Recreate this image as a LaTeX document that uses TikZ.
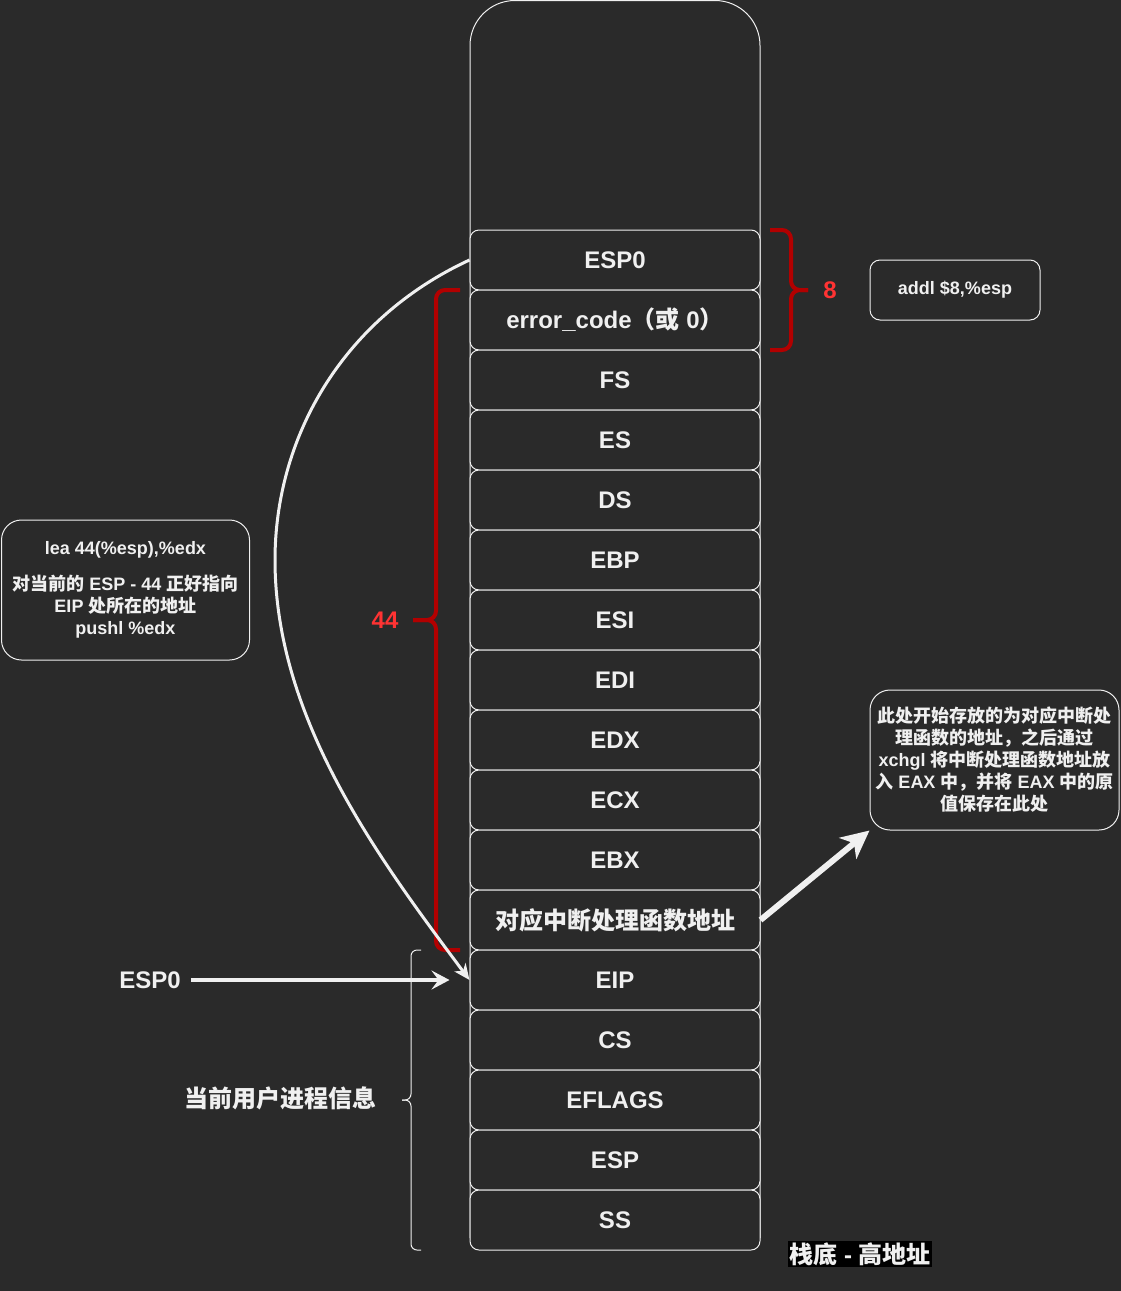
\documentclass[tikz,border=0pt]{standalone}
\usepackage{fontspec}
\setmainfont{Liberation Sans}
\newfontfamily\zhfont{Noto Sans CJK SC}
\newcommand\zh[1]{{\zhfont #1}}
\usetikzlibrary{arrows.meta}

\definecolor{bgc}{HTML}{2A2A2A}
\definecolor{linec}{HTML}{F0F0F0}
\definecolor{redc}{HTML}{B20000}
\definecolor{redtext}{HTML}{FF3333}

\tikzset{
  slot/.style={draw=linec, line width=1pt, fill=bgc, rounded corners=9pt,
    minimum width=290pt, minimum height=60pt, inner sep=0pt, text=linec,
    font=\fontsize{24}{28}\selectfont\bfseries},
  note/.style={draw=linec, line width=1pt, rounded corners=20pt, text=linec,
    inner sep=0pt, font=\fontsize{18}{22}\selectfont\bfseries, align=center},
  lbl/.style={text=linec, inner sep=0pt, font=\fontsize{24}{28}\selectfont\bfseries},
  redlbl/.style={text=redtext, inner sep=0pt, font=\fontsize{24}{28}\selectfont\bfseries},
  redbrace/.style={draw=redc, line width=4pt, rounded corners=9pt},
  thinbrace/.style={draw=linec, line width=1pt, rounded corners=6pt},
}

\begin{document}
\begin{tikzpicture}[x=1pt,y=-1pt]
\useasboundingbox (0,0) rectangle (1121,1291);
\fill[bgc] (0,0) rectangle (1121,1291);

% outer frame of the stack
\draw[linec, line width=1pt, rounded corners=45pt] (470,1238) -- (470,0.5) -- (760,0.5) -- (760,1238);

% stack slots
\node[slot] (esp0) at (615,260) {ESP0};
\node[slot] (err) at (615,320) {error\_code\zh{（或} 0\zh{）}};
\node[slot] (fs) at (615,380) {FS};
\node[slot] (es) at (615,440) {ES};
\node[slot] (ds) at (615,500) {DS};
\node[slot] (ebp) at (615,560) {EBP};
\node[slot] (esi) at (615,620) {ESI};
\node[slot] (edi) at (615,680) {EDI};
\node[slot] (edx) at (615,740) {EDX};
\node[slot] (ecx) at (615,800) {ECX};
\node[slot] (ebx) at (615,860) {EBX};
\node[slot] (handler) at (615,920) {\zh{对应中断处理函数地址}};
\node[slot] (eip) at (615,980) {EIP};
\node[slot] (cs) at (615,1040) {CS};
\node[slot] (eflags) at (615,1100) {EFLAGS};
\node[slot] (esp) at (615,1160) {ESP};
\node[slot] (ss) at (615,1220) {SS};

% notes
\node[note, minimum width=170pt, minimum height=60pt, rounded corners=10pt] (addl) at (955,290) {addl \$8,\%esp};
\node[note, minimum width=248pt, minimum height=140pt] (lnote) at (125.5,590)
  {lea 44(\%esp),\%edx\\[14pt] \zh{对当前的} ESP - 44 \zh{正好指向}\\ EIP \zh{处所在的地址}\\ pushl \%edx};
\node[note, minimum width=249pt, minimum height=140pt] (rnote) at (994.5,760)
  {\zh{此处开始存放的为对应中断处}\\ \zh{理函数的地址，之后通过}\\ xchgl \zh{将中断处理函数地址放}\\ \zh{入} EAX \zh{中，并将} EAX \zh{中的原}\\ \zh{值保存在此处}};

% labels
\node[lbl] (espl) at (150,980) {ESP0};
\node[lbl] (user) at (280,1098) {\zh{当前用户进程信息}};
\node[lbl, fill=black, inner sep=1pt] (bottom) at (860,1254) {\zh{栈底} - \zh{高地址}};
\node[redlbl] (eight) at (830,290) {8};
\node[redlbl] (forty) at (385,620) {44};

% braces
\draw[redbrace] (770,230) -- (791,230) -- (791,290) -- (808,290);
\draw[redbrace] (770,350) -- (791,350) -- (791,290) -- (808,290);
\draw[redbrace] (460,290) -- (436,290) -- (436,620) -- (413,620);
\draw[redbrace] (460,950) -- (436,950) -- (436,620) -- (413,620);
\draw[thinbrace] (421,950) -- (411,950) -- (411,1100) -- (402,1100);
\draw[thinbrace] (421,1250) -- (411,1250) -- (411,1100) -- (402,1100);

% arrows
\draw[linec, line width=3pt, -{Stealth[length=16pt,width=14pt,inset=5pt]}] (esp0.west)
  .. controls (340,320) and (275,440) .. (275,560)
  .. controls (275,720) and (380,860) .. (eip.west);
\draw[linec, line width=4pt, shorten <=10pt, shorten >=20pt, -{Stealth[length=18pt,width=19pt,inset=7pt]}] (espl.east) -- (eip.west);
\draw[linec, line width=6pt, -{Stealth[length=28pt,width=27pt,inset=8pt]}] (handler.east) -- (rnote.south west);
\end{tikzpicture}
\end{document}
